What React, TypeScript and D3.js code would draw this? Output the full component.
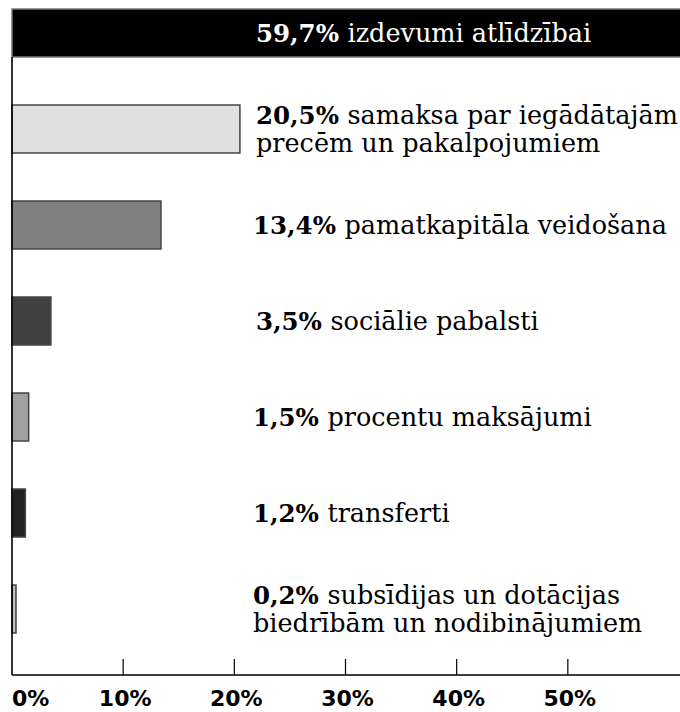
import React from "react";
import * as d3 from "d3";

const categories = ["atlidziba", "precces", "pamatkap", "socialie", "procentu", "transferti", "subsidijas"];
const values = [59.7, 20.5, 13.4, 3.5, 1.5, 1.2, 0.2];
const valueLabels = ["59,7%", "20,5%", "13,4%", "3,5%", "1,5%", "1,2%", "0,2%"];
const descLines = [
  ["izdevumi atlīdzībai"],
  ["samaksa par iegādātajām", "precēm un pakalpojumiem"],
  ["pamatkapitāla veidošana"],
  ["sociālie pabalsti"],
  ["procentu maksājumi"],
  ["transferti"],
  ["subsīdijas un dotācijas", "biedrībām un nodibinājumiem"],
];
const fills = ["#000000", "#e0e0e0", "#808080", "#404040", "#a0a0a0", "#222222", "#bdbdbd"];
const tickValues = [0, 10, 20, 30, 40, 50];
const tickLabels = ["0%", "10%", "20%", "30%", "40%", "50%"];

const W = 680;
const H = 712;

export default function App() {
  const x = d3.scaleLinear().domain([0, 60]).range([12, 679]);
  const y = d3
    .scaleBand<string>()
    .domain(categories)
    .range([9, 633])
    .paddingInner(0.5)
    .paddingOuter(0);
  const axisY = 675;
  const serif = "'DejaVu Serif', serif";
  const sans = "'DejaVu Sans', sans-serif";
  const fs = 25.5;
  const fsBold = 24.5;

  return (
    <svg
      width={W}
      height={H}
      style={{ position: "absolute", left: 0, top: 0, background: "#fff" }}
    >
      {categories.map((c, i) => {
        const y0 = y(c)!;
        const bw = y.bandwidth();
        const isTop = i === 0;
        const w = isTop ? W + 2 - x(0) : Math.max(x(values[i]) - x(0), 4);
        return (
          <rect
            key={c}
            x={x(0)}
            y={y0}
            width={w}
            height={bw}
            fill={fills[i]}
            stroke={isTop ? "#777" : "#444"}
            strokeWidth={1.5}
          />
        );
      })}
      {/* axes */}
      <line x1={x(0)} x2={x(0)} y1={y(categories[0])! + y.bandwidth()} y2={axisY} stroke="#000" strokeWidth={1.6} />
      <line x1={x(0)} x2={W} y1={axisY} y2={axisY} stroke="#000" strokeWidth={1.6} />
      {tickValues.map((t) =>
        t === 0 ? null : (
          <line key={"t" + t} x1={x(t)} x2={x(t)} y1={axisY - 16} y2={axisY} stroke="#000" strokeWidth={1.2} />
        )
      )}
      {tickValues.map((t, i) => (
        <text
          key={"l" + t}
          x={t === 0 ? x(t) : x(t) + 2}
          y={706}
          textAnchor={t === 0 ? "start" : "middle"}
          fontFamily={sans}
          fontWeight="bold"
          fontSize={22}
          fill="#000"
        >
          {tickLabels[i]}
        </text>
      ))}
      {categories.map((c, i) => {
        const cy = y(c)! + y.bandwidth() / 2;
        const lines = descLines[i];
        const lh = 28;
        const color = i === 0 ? "#fff" : "#000";
        const tx = i === 0 || i === 1 || i === 3 ? 256 : 253;
        return (
          <text key={"d" + c} fontFamily={serif} fontSize={fs} fill={color}>
            {lines.map((ln, j) => {
              const ly = cy + (j - (lines.length - 1) / 2) * lh + fs * 0.34;
              return (
                <tspan key={j} x={tx} y={ly}>
                  {j === 0 ? (
                    <tspan fontWeight="bold" fontSize={fsBold}>{valueLabels[i]} </tspan>
                  ) : null}
                  {ln}
                </tspan>
              );
            })}
          </text>
        );
      })}
    </svg>
  );
}
